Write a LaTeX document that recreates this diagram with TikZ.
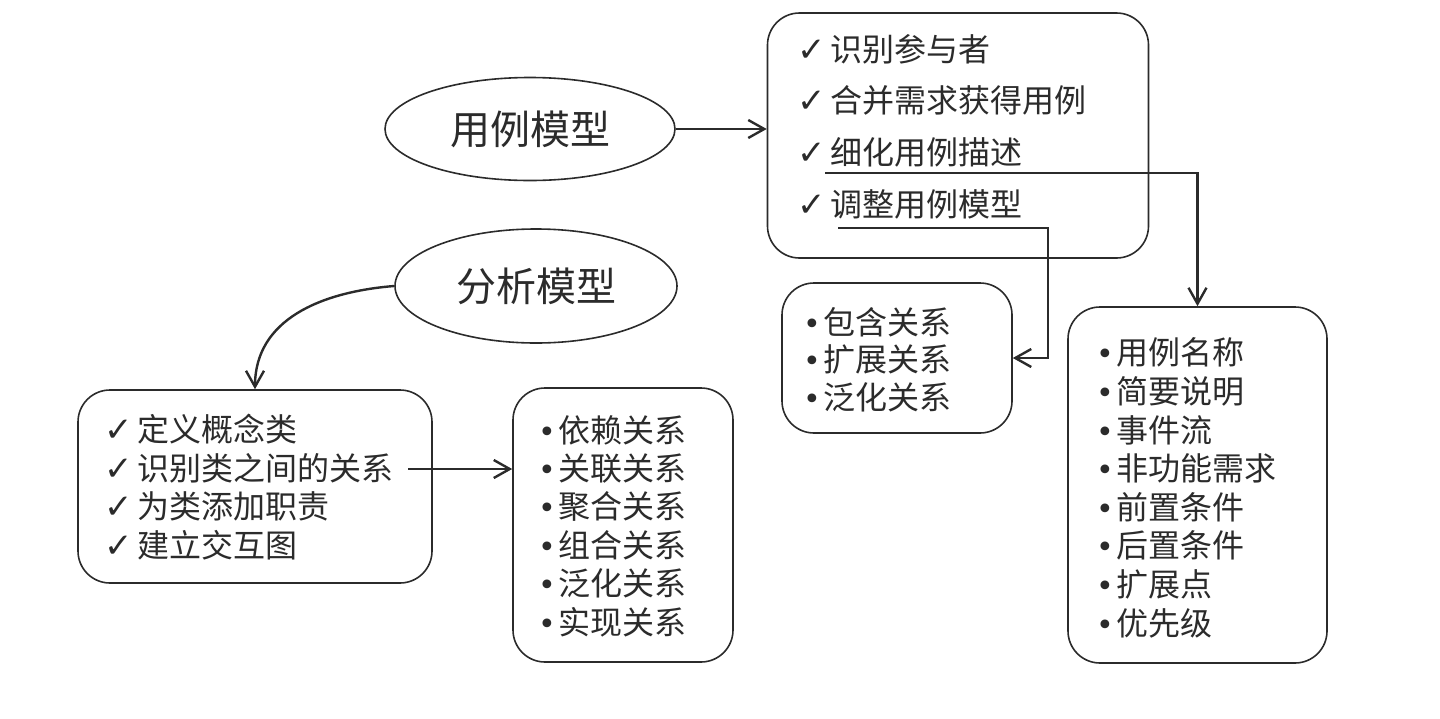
\documentclass[tikz,border=0pt]{standalone}
\usepackage{fontspec}
\newfontfamily\cjk{Noto Sans CJK SC}
\newfontfamily\sym{DejaVu Sans}
\usetikzlibrary{arrows, arrows.meta}
\usetikzlibrary{shapes.geometric}
\definecolor{ink}{HTML}{2B2B2B}
\newcommand{\chk}{\makebox[16.5pt][l]{\sym\fontsize{17}{17}\selectfont ✓}}
\newcommand{\dotitem}{\makebox[9pt][l]{\hspace{-1pt}\sym\fontsize{15}{15}\selectfont •}}

\begin{document}
\begin{tikzpicture}[x=0.5pt, y=-0.5pt,
    oval/.style={ellipse, draw=ink, line width=0.8pt, inner sep=0pt, text=ink, font=\cjk\fontsize{20}{24}\selectfont},
    listbox/.style={draw=ink, line width=0.8pt, rounded corners=16pt, inner sep=0pt},
    items/.style={anchor=base west, align=left, inner sep=0pt, text=ink},
    arr/.style={draw=ink, line width=1.2pt, -{Straight Barb[length=8pt, width=9pt]}}]
    \useasboundingbox (0,0) rectangle (1440,718);

    % the two models
    \node[oval, minimum width=145pt, minimum height=51.5pt] (ucm) at (530,129) {用例模型};
    \node[oval, minimum width=141pt, minimum height=57pt] (anm) at (536,286) {分析模型};

    % boxes
    \node[listbox, minimum width=190.5pt, minimum height=122.5pt] (steps) at (958,135.5) {};
    \node[listbox, minimum width=115pt, minimum height=75pt] (rels) at (897,358) {};
    \node[listbox, minimum width=129.5pt, minimum height=178pt] (desc) at (1197.5,485) {};
    \node[listbox, minimum width=177pt, minimum height=96.5pt] (clsteps) at (255,486.5) {};
    \node[listbox, minimum width=110pt, minimum height=137pt] (clrels) at (623,525) {};

    % box texts (placed at the baseline of their last line)
    \node[items, font=\cjk\fontsize{16}{25.8}\selectfont] (steps-t) at (797,216)
      {\chk 识别参与者\\ \chk 合并需求获得用例\\ \chk 细化用例描述\\ \chk 调整用例模型};
    \node[items, font=\cjk\fontsize{16}{18.75}\selectfont] (rels-t) at (805,409)
      {\dotitem 包含关系\\ \dotitem 扩展关系\\ \dotitem 泛化关系};
    \node[items, font=\cjk\fontsize{16}{19.3}\selectfont] (desc-t) at (1098,635)
      {\dotitem 用例名称\\ \dotitem 简要说明\\ \dotitem 事件流\\ \dotitem 非功能需求\\
       \dotitem 前置条件\\ \dotitem 后置条件\\ \dotitem 扩展点\\ \dotitem 优先级};
    \node[items, font=\cjk\fontsize{16}{19.2}\selectfont] (clsteps-t) at (104,557)
      {\chk 定义概念类\\ \chk 识别类之间的关系\\ \chk 为类添加职责\\ \chk 建立交互图};
    \node[items, font=\cjk\fontsize{16}{19.2}\selectfont] (clrels-t) at (540,634)
      {\dotitem 依赖关系\\ \dotitem 关联关系\\ \dotitem 聚合关系\\ \dotitem 组合关系\\
       \dotitem 泛化关系\\ \dotitem 实现关系};

    % connectors
    \coordinate (ul1) at (825,173);
    \coordinate (ul2) at (838,228);
    \coordinate (ul2e) at (1048,228);
    \coordinate (rel1) at (408,469);

    \draw[arr] (ucm.east) -- (ucm.east -| steps.west);
    \draw[arr] (ul1) -| (desc);
    \draw[arr] (ul2) -- (ul2e) |- (rels);
    \draw[arr] (anm.west) .. controls (320,292) and (255,320) .. (clsteps.north);
    \draw[arr] (rel1) -- (rel1 -| clrels.west);
\end{tikzpicture}
\end{document}
